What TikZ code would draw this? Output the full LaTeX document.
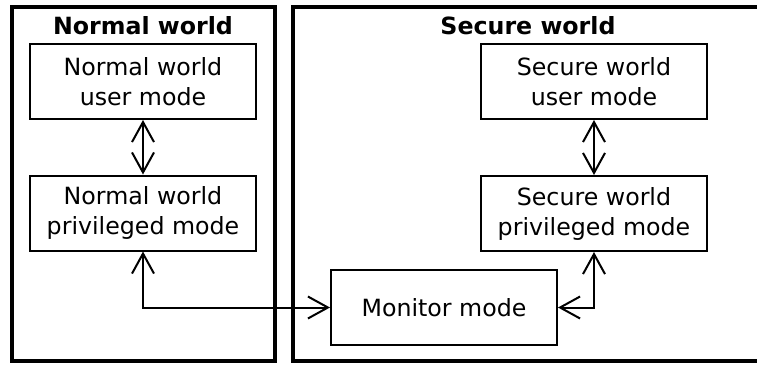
\documentclass[tikz,border=0pt]{standalone}
\usepackage{fontspec}
\setmainfont{DejaVu Sans}
\usetikzlibrary{arrows.meta}

\begin{document}
\begin{tikzpicture}[x=1pt, y=-1pt,
    mode/.style={rectangle, draw, line width=2pt, minimum width=226pt, minimum height=75pt, inner sep=0pt, align=center, font=\fontsize{23.7}{30}\selectfont},
    world/.style={rectangle, draw, line width=3.5pt, inner sep=0pt},
    title/.style={inner sep=0pt, font=\fontsize{23.7}{28}\selectfont\bfseries},
    link/.style={line width=2pt, {Straight Barb[length=20pt, width=22pt]}-{Straight Barb[length=20pt, width=22pt]}}]
  \useasboundingbox (0,0) rectangle (757,365);
  \clip (0,0) rectangle (757,365);
  \node (nw) [world, minimum width=263pt, minimum height=354pt] at (143.5, 184) {};
  \node (sw) [world, minimum width=487pt, minimum height=354pt] at (536.5, 184) {};
  \node (nwt) [title] at (143, 26) {Normal world};
  \node (swt) [title] at (528, 26) {Secure world};
  \node (nu) [mode] at (143, 81.5) {Normal world\\user mode};
  \node (np) [mode] at (143, 213) {Normal world\\privileged mode};
  \node (su) [mode] at (594, 81.5) {Secure world\\user mode};
  \node (sp) [mode] at (594, 213.5) {Secure world\\privileged mode};
  \node (mon) [mode] at (444, 307.5) {Monitor mode};
  \draw [link] (nu) -- (np);
  \draw [link] (su) -- (sp);
  \draw [link] (np.south) |- (mon.west);
  \draw [link] (sp.south) |- (mon.east);
\end{tikzpicture}
\end{document}
